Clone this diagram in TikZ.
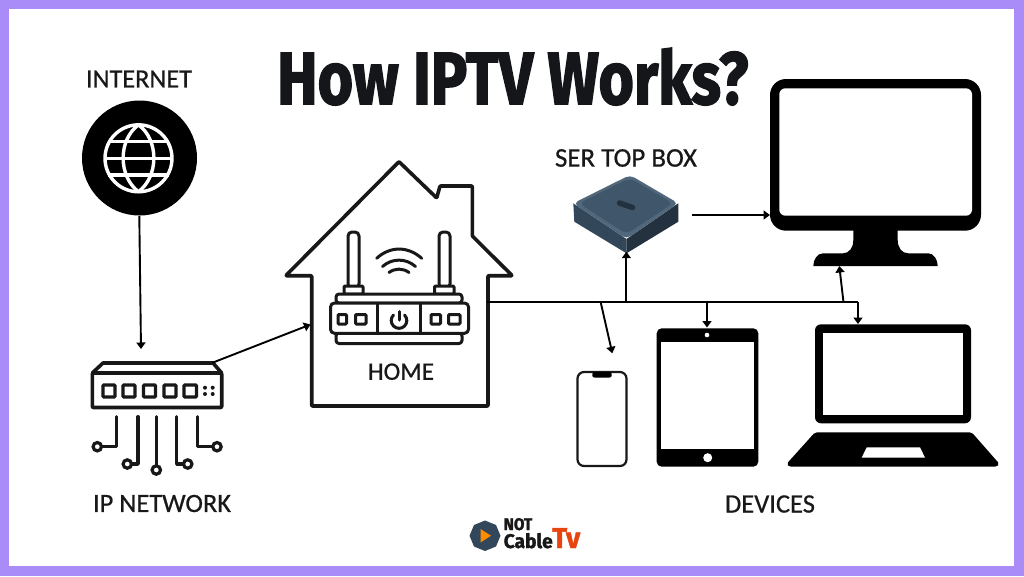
\documentclass[tikz,border=0pt]{standalone}
\usepackage{fontspec}
\usepackage{graphicx}
\setmainfont[FakeBold=0.6]{Carlito}
\newfontfamily\titlefont[BoldFeatures={FakeBold=2.2}]{Fira Sans}
\newfontfamily\logofont[BoldFeatures={FakeBold=1.5}]{Fira Sans}
\usetikzlibrary{arrows.meta}
\definecolor{frame}{HTML}{A98CF8}
\definecolor{ink}{HTML}{181818}
\definecolor{titleink}{HTML}{14161A}
\definecolor{stbtop}{HTML}{51687C}
\definecolor{stbin}{HTML}{40566A}
\definecolor{stbl}{HTML}{33475A}
\definecolor{stbr}{HTML}{24323F}
\tikzset{
  x=1pt,y=-1pt,
  conn/.style={draw=black,line width=1.9pt,-{Triangle[length=6.5pt,width=9pt]}},
  bus/.style={draw=black,line width=1.9pt},
  lab/.style={inner sep=0pt,text=ink,font=\fontsize{26}{28}\selectfont},
  icon/.style={draw=ink,line width=3.6pt,line join=round,line cap=round},
  thin icon/.style={draw=ink,line width=3pt,line join=round,line cap=round},
  wire/.style={draw=ink,line width=3.4pt,line cap=round,line join=round},
}
\begin{document}
\begin{tikzpicture}
\useasboundingbox (0,0) rectangle (1024,576);
\fill[frame] (0,0) rectangle (1024,576);
\fill[white] (9,9) rectangle (1014,566);

% title
\node[anchor=base west,inner sep=0pt,text=titleink] (title) at (277,104)
  {\resizebox{471pt}{56pt}{\titlefont\bfseries How IPTV Works?}};

% labels
\node[lab] (lInternet) at (139,79) {\resizebox{106pt}{!}{INTERNET}};
\node[lab] (lNetwork) at (162,503.5) {\resizebox{138pt}{!}{IP NETWORK}};
\node[lab] (lHome) at (401,371.7) {\resizebox{66pt}{!}{HOME}};
\node[lab] (lStb) at (626,158) {\resizebox{142pt}{!}{SER TOP BOX}};
\node[lab] (lDevices) at (770,504) {\resizebox{90pt}{!}{DEVICES}};

% globe
\fill[black] (139.5,158) circle (57.5);
\begin{scope}[line width=3.4pt]
  \draw[white] (138.5,158.3) circle (33.5);
  \draw[white] (138.5,124.8) .. controls (118,140) and (118,176) .. (138.5,191.8);
  \draw[white] (138.5,124.8) .. controls (159,140) and (159,176) .. (138.5,191.8);
  \draw[white] (108,141.7) -- (169,141.7);
  \draw[white] (105,158.3) -- (172,158.3);
  \draw[white] (108,175) -- (169,175);
\end{scope}

% switch
\draw[icon] (92.3,373) -- (103,363) -- (213,363) -- (221.7,373);
\draw[icon,rounded corners=1pt] (92.3,373) rectangle (221.7,407.5);
\foreach \xa/\xb in {103/115,123/135,143.5/155.5,164/176,184/196.5}{
  \draw[ink,line width=3.2pt,rounded corners=1pt] (\xa,385) rectangle (\xb,397);
}
\foreach \p in {(205,387.7),(212.7,387.7),(205,394),(212.7,394)}{\fill[ink] \p circle (2);}
\draw[wire] (116.7,416.7) -- (116.7,446.7) -- (102,446.7);
\draw[wire] (138,416.7) -- (138,464) -- (132,464);
\draw[wire] (156.3,416.7) -- (156.3,466);
\draw[wire] (176.7,416.7) -- (176.7,464) -- (183,464);
\draw[wire] (197.3,416.7) -- (197.3,446.7) -- (212,446.7);
\foreach \p in {(97.3,446.7),(127.3,464),(156.3,470),(187.7,464),(217,446.7)}{
  \draw[ink,line width=3.2pt,fill=white] \p circle (4.2);
}

% house
\draw[icon,line width=3.6pt,rounded corners=0.8pt]
  (399,161.7) -- (436.7,198) -- (440,186) -- (472.3,186) -- (472.3,236)
  -- (512.3,275.7) -- (488,275.7) -- (488,406) -- (311.7,406) -- (311.7,275.7)
  -- (285.7,275.7) -- cycle;

% router
\draw[thin icon,fill=white,rounded corners=4pt] (348,232) rectangle (359,288);
\draw[thin icon,fill=white,rounded corners=4pt] (439,232) rectangle (450,288);
\draw[thin icon,fill=white,rounded corners=1pt] (344,286) rectangle (363,294);
\draw[thin icon,fill=white,rounded corners=1pt] (434.5,286) rectangle (454,294);
\draw[thin icon,fill=white,rounded corners=3pt] (336,294) rectangle (462,303);
\draw[thin icon,fill=white,rounded corners=3pt] (336,333) rectangle (462,343.5);
\draw[thin icon,fill=white,rounded corners=4pt] (330.5,303) rectangle (468.5,333.3);
\draw[ink,line width=2.8pt] (377.3,303) -- (377.3,333.3);
\draw[ink,line width=2.8pt] (420.7,303) -- (420.7,333.3);
\foreach \xa/\xb in {338/346.5,355.5/366,431/440.5,448.5/460}{
  \draw[ink,line width=3pt,rounded corners=1pt] (\xa,314.5) rectangle (\xb,324);
}
\draw[ink,line width=3pt,line cap=round] (393.5,315) arc[start angle=225,end angle=-45,radius=7.8];
\draw[ink,line width=3pt,line cap=round] (399,311.5) -- (399,320);
\draw[thin icon] (376.7,258.3) .. controls (390,246) and (408,246) .. (421.7,258.3);
\draw[thin icon] (382.5,266.5) .. controls (392,258) and (406,258) .. (415.5,266.5);
\draw[thin icon] (389,272.5) .. controls (395,268) and (403,268) .. (409,272.5);

% set top box
\fill[stbl] (573.3,203.3) -- (626.5,239) -- (626.5,253.3) -- (574.3,221.7) -- cycle;
\fill[stbr] (626.5,239) -- (678.3,203.3) -- (678.3,221.7) -- (626.5,253.3) -- cycle;
\fill[stbtop,rounded corners=5pt] (630,175) -- (678.3,203.3) -- (626.5,239) -- (573.3,203.3) -- cycle;
\fill[stbin,rounded corners=6pt] (630,178) -- (673,203.3) -- (626.5,234) -- (579,203.3) -- cycle;
\draw[stbr,line width=5.5pt,line cap=round] (619.5,203) -- (632.5,207.5);
\foreach \p in {(579,217),(590,224),(607,234)}{\fill[black!20!stbin] \p circle (2);}
\fill[black!20!stbin] (619,237) rectangle (622,246);

% tv
\fill[black,rounded corners=16pt] (770,79) rectangle (981,230.7);
\fill[white,rounded corners=6pt] (779.3,88.3) rectangle (972,215.7);
\fill[black] (853.3,225) -- (853.3,240) .. controls (853.3,248) and (849,253.3) .. (843,253.3)
  -- (823,253.3) .. controls (817,253.3) and (813.3,260) .. (813.3,266) -- (937.7,266)
  .. controls (937.7,260) and (934,253.3) .. (928.3,253.3) -- (908,253.3)
  .. controls (902,253.3) and (897.7,248) .. (897.7,240) -- (897.7,225) -- cycle;

% phone
\draw[ink,line width=2.2pt,fill=white,rounded corners=6.5pt] (577.5,372) rectangle (626.5,466);
\fill[black,rounded corners=2pt] (592.3,372) rectangle (611.7,377.5);

% tablet
\fill[black,rounded corners=5pt] (656.7,328.3) rectangle (758.3,466.7);
\fill[white] (661,342) rectangle (754,448.7);
\fill[white] (707,335) circle (2.3);
\fill[white] (707.7,457.7) circle (4.5);

% laptop
\fill[black,rounded corners=6pt] (815,324.3) rectangle (971,423.3);
\fill[white] (823.3,333.3) rectangle (962.7,415);
\fill[black,rounded corners=2pt] (815,432.3) -- (971.7,432.3) -- (999.5,464) -- (997,466.7)
  -- (789,466.7) -- (786.5,464) -- cycle;
\fill[white] (866.7,447.3) -- (920,447.3) -- (925,457.7) -- (861.7,457.7) -- cycle;

% logo
\fill[stbl] (485,520.5) -- (496,525) -- (500.5,535.7) -- (496,546.5) -- (485,551)
  -- (474,546.5) -- (469.5,535.7) -- (474,525) -- cycle;
\fill[orange!90!yellow] (480.5,529) -- (491,535.7) -- (480.5,542.5) -- cycle;
\node[anchor=base west,inner sep=0pt,text=ink] (logoA) at (503.5,530)
  {\resizebox{28.5pt}{12pt}{\logofont\bfseries NOT}};
\node[anchor=base west,inner sep=0pt,text=ink] (logoB) at (503.5,548)
  {\resizebox{49pt}{15pt}{\logofont\bfseries Cable}};
\node[anchor=base west,inner sep=0pt,text={rgb,255:red,232;green,68;blue,16}] (logoC) at (552,548)
  {\resizebox{28pt}{20pt}{\logofont\bfseries Tv}};

% connectors
\coordinate (globeS) at (139.3,216);
\coordinate (switchN) at (141,349);
\coordinate (switchE) at (212.5,362.7);
\coordinate (houseW) at (310.5,324.5);
\coordinate (houseE) at (487,302.3);
\coordinate (busEnd) at (858,302.3);
\coordinate (stbS) at (626.4,251.7);
\coordinate (stbE) at (692,215);
\coordinate (tvW) at (770,215);
\coordinate (phoneN) at (612.3,353.3);
\coordinate (tabletN) at (707,327.5);
\coordinate (laptopN) at (858,324);
\coordinate (tvS) at (839.3,266);
\coordinate (j1) at (600.7,302.3);
\coordinate (j2) at (626.4,302.3);
\coordinate (j3) at (707,302.3);
\coordinate (j4) at (843.5,302.3);

\draw[conn] (globeS) -- (switchN);
\draw[conn] (switchE) -- (houseW);
\draw[bus] (houseE) -- (busEnd);
\draw[conn] (j2) -- (stbS);
\draw[conn] (stbE) -- (tvW);
\draw[conn] (j1) -- (phoneN);
\draw[conn] (j3) -- (tabletN);
\draw[conn] (j4) -- (tvS);
\draw[conn] (busEnd) -- (laptopN);
\end{tikzpicture}
\end{document}
